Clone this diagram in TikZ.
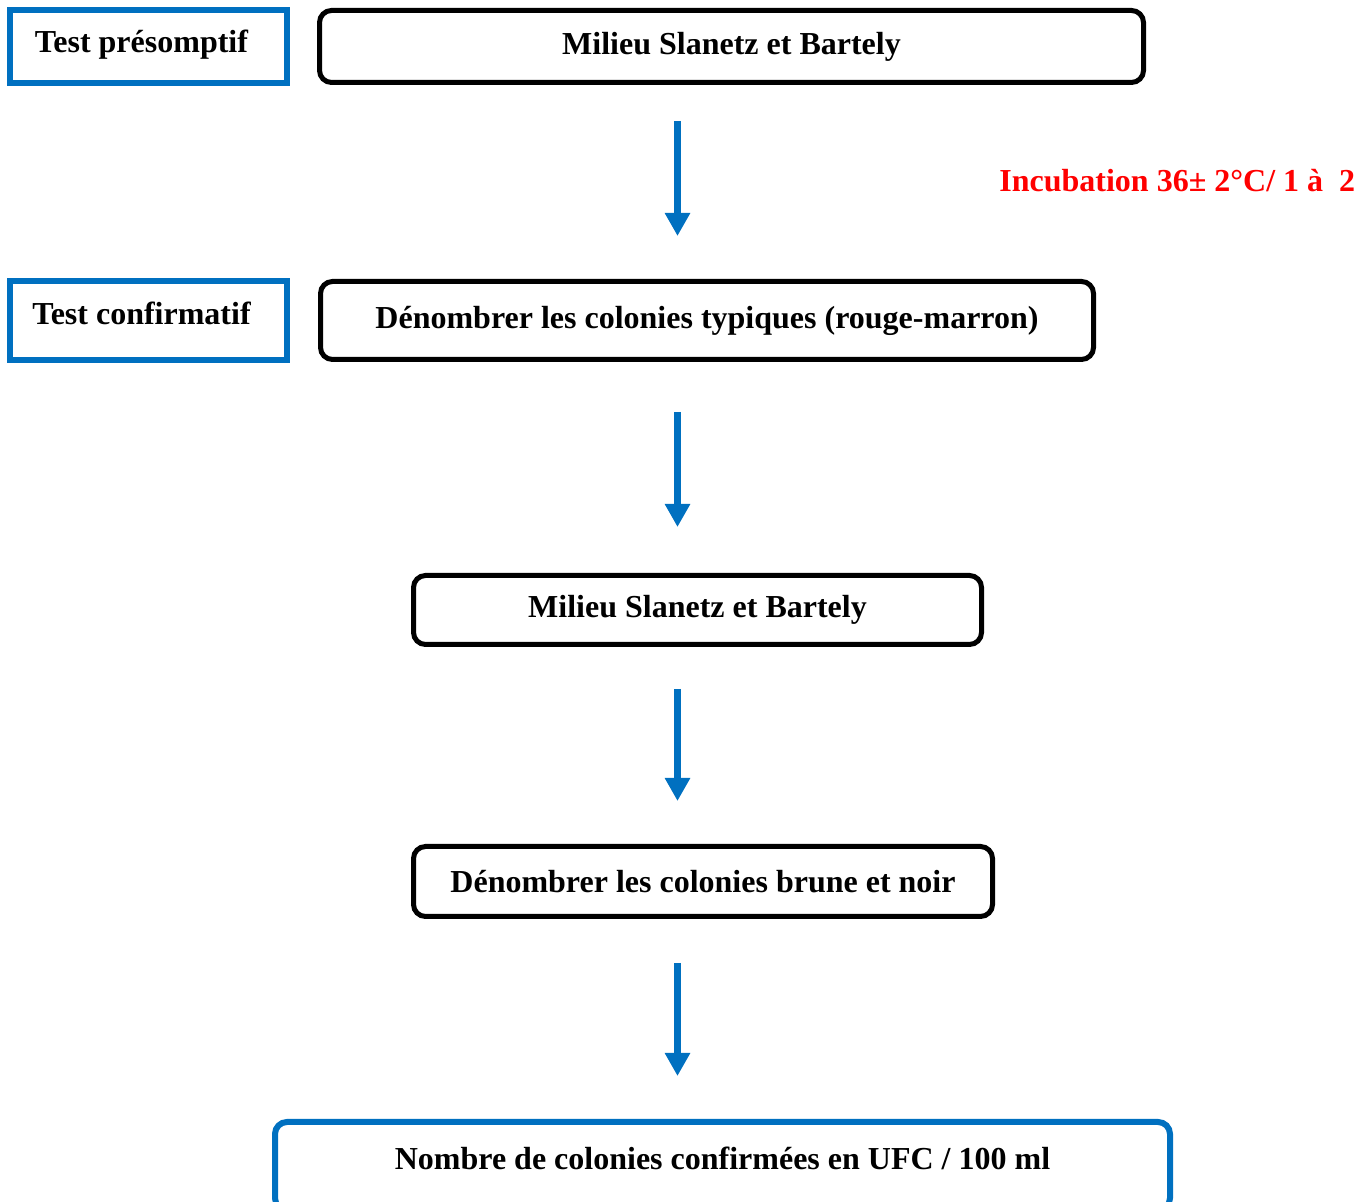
\documentclass[tikz,border=0pt]{standalone}
\usepackage{fontspec}
\setmainfont{Liberation Serif}
\usetikzlibrary{arrows.meta,positioning,calc}
\definecolor{protoblue}{RGB}{0,112,192}
\definecolor{protored}{RGB}{255,0,0}

\begin{document}
\begin{tikzpicture}[x=0.5pt,y=-0.5pt,
    testbox/.style={draw=protoblue, line width=3pt, minimum width=138.5pt, text height=12pt, font=\bfseries\fontsize{16}{19}\selectfont},
    etape/.style={draw=black, line width=2.5pt, rounded corners=6pt, font=\bfseries\fontsize{16}{19}\selectfont},
    resultat/.style={draw=protoblue, line width=3pt, rounded corners=6pt, text height=12pt, text depth=9pt, font=\bfseries\fontsize{16}{19}\selectfont},
    flow/.style={draw=protoblue, line width=3.5pt, -{Triangle[width=12pt,length=11.5pt]}, shorten <=21pt, shorten >=21.5pt}]
\useasboundingbox (0,0) rectangle (1372,1202);

% labels on the left
\node[testbox, minimum height=36.5pt, text depth=5.5pt] (presomptif) at (148.5,46.5) {Test présomptif\hspace*{7pt}};
\node[testbox, minimum height=39.5pt, text depth=8pt] (confirmatif) at (148.5,320.5) {Test confirmatif\hspace*{7pt}};

% steps
\node[etape, minimum width=412pt, minimum height=36pt] (milieu1) at (731.5,46.5) {Milieu Slanetz et Bartely};
\node[etape, minimum width=386.5pt, minimum height=39pt] (typiques) at (707,320.5) {Dénombrer les colonies typiques (rouge-marron)};
\node[etape, minimum width=284pt, minimum height=34.5pt] (milieu2) at (697.5,610) {Milieu Slanetz et Bartely};
\node[etape, minimum width=289.5pt, minimum height=35pt] (brune) at (703,881.5) {Dénombrer les colonies brune et noir};
\node[resultat, minimum width=447.5pt, minimum height=44pt] (nombre) at (722.5,1166) {Nombre de colonies confirmées en UFC / 100 ml};

\node[anchor=base west, inner sep=0, text=protored, font=\bfseries\fontsize{16}{19}\selectfont] (incubation) at (999,192) {Incubation 36± 2°C/ 1 à\ \ 2};

% arrows
\coordinate (axe) at (677.5,0);
\draw[flow, shorten <=18pt] (milieu1.south -| axe) -- (typiques.north -| axe);
\draw[flow, shorten <=25pt, shorten >=23pt] (typiques.south -| axe) -- (milieu2.north -| axe);
\draw[flow] (milieu2.south -| axe) -- (brune.north -| axe);
\draw[flow, shorten <=22pt] (brune.south -| axe) -- (nombre.north -| axe);
\end{tikzpicture}
\end{document}
